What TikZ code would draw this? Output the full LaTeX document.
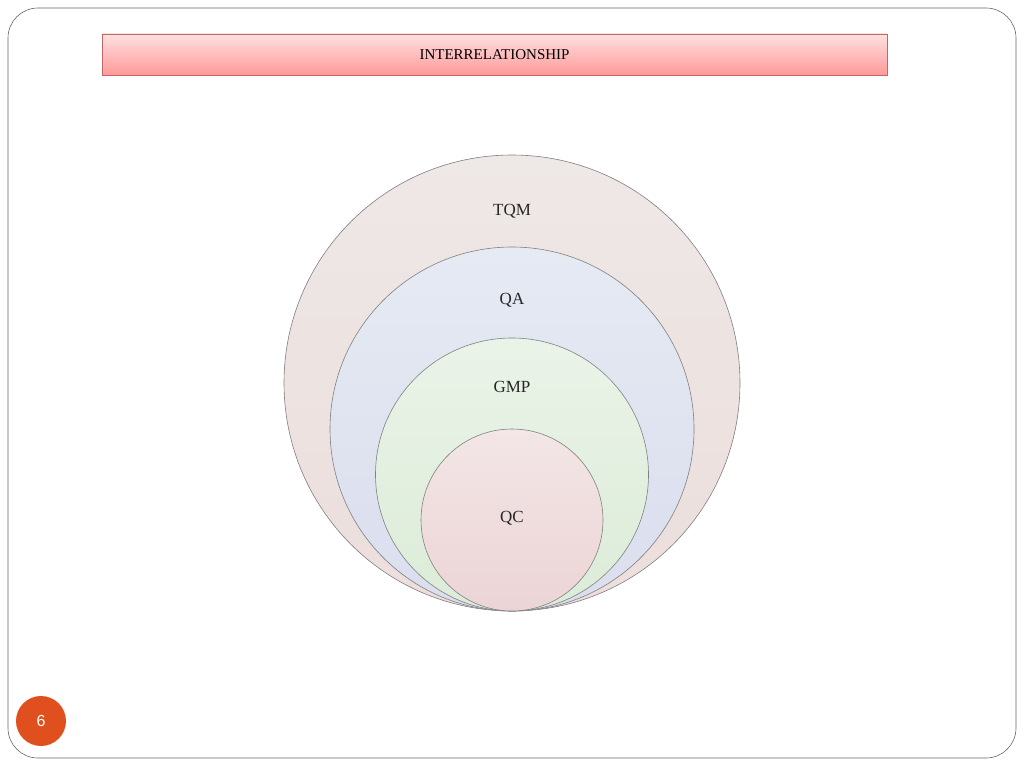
\documentclass[tikz,border=0pt]{standalone}
\usepackage{fontspec}
\setmainfont{Liberation Serif}
\newfontfamily\sansf{Liberation Sans}
\begin{document}
\begin{tikzpicture}[x=1pt,y=-1pt,
  ring/.style={draw=black!50,line width=0.6pt},
  lbl/.style={font=\fontsize{17}{20}\selectfont,text=black!85}]
\useasboundingbox (0,0) rectangle (1024,768);
\node[draw=black!60,rounded corners=30pt,line width=0.6pt,minimum width=1008pt,minimum height=750pt] (frame) at (512,383) {};
\node[draw=red!60!black!60,top color=red!12,bottom color=red!40,minimum width=785pt,minimum height=41pt,font=\fontsize{15}{18}\selectfont] (title) at (494.5,54.5) {INTERRELATIONSHIP};
\node[circle,ring,minimum size=456pt,top color={rgb,255:red,238;green,232;blue,230},bottom color={rgb,255:red,236;green,222;blue,220}] (tqm) at (512,383) {};
\node[circle,ring,minimum size=364pt,top color={rgb,255:red,230;green,234;blue,243},bottom color={rgb,255:red,218;green,222;blue,238}] (qa) at (512,429) {};
\node[circle,ring,minimum size=273pt,top color={rgb,255:red,234;green,243;blue,232},bottom color={rgb,255:red,220;green,236;blue,216}] (gmp) at (512,474.5) {};
\node[circle,ring,minimum size=182pt,top color={rgb,255:red,243;green,230;blue,230},bottom color={rgb,255:red,236;green,212;blue,214}] (qc) at (512,520) {};
\node[lbl] (t1) at (512,211) {TQM};
\node[lbl] (t2) at (512,300) {QA};
\node[lbl] (t3) at (512,387) {GMP};
\node[lbl] (t4) at (512,518) {QC};
\node[circle,fill={rgb,255:red,224;green,80;blue,30},minimum size=50pt,text=white,font=\sansf\fontsize{16}{18}\selectfont] (pg) at (41,721) {6};
\end{tikzpicture}
\end{document}
